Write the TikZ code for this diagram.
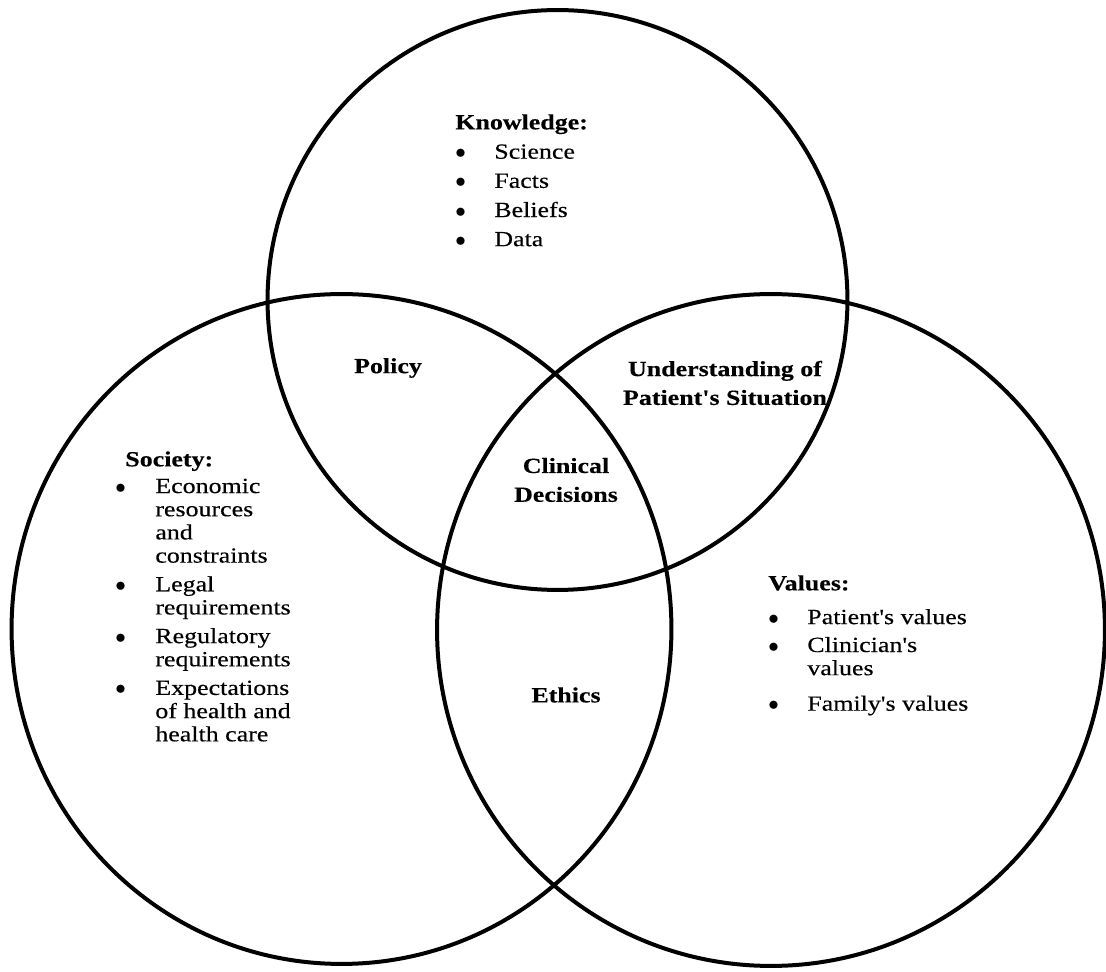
\documentclass[tikz,border=0pt]{standalone}
\usepackage{fontspec}
\setmainfont{Liberation Serif}[FakeStretch=1.2,FakeBold=0.3,Ligatures=TeXOff]

% one bullet point; optional arg is the width kept for the bullet
\newcommand{\bul}[2][0.78cm]{\makebox[#1][l]{$\bullet$}\begin{tabular}[t]{@{}l@{}}#2\end{tabular}}

\tikzset{
  venn/.style={line width=0.08cm},
  listbox/.style={align=left, anchor=north west, inner sep=0pt,
    font=\fontsize{12.3}{13.2}\selectfont},
  region/.style={align=center, inner sep=0pt,
    font=\bfseries\fontsize{12.3}{16.4}\selectfont},
}

\begin{document}
\begin{tikzpicture}[x=0.02cm,y=-0.02cm]
  \useasboundingbox (0,0) rectangle (1106,972);

  % circles
  \coordinate (know) at (557.5,300);
  \coordinate (soc) at (341.5,629);
  \coordinate (val) at (771,630);
  \draw[venn] (know) circle [radius=5.8cm];
  \draw[venn] (soc) circle [x radius=6.6cm, y radius=6.7cm];
  \draw[venn] (val) circle [x radius=6.68cm, y radius=6.72cm];

  % the three lists
  \node[listbox] (knowl) at (455,114) {\textbf{Knowledge:}\\[3.5pt]
    \bul{Science}\\[3.4pt]
    \bul{Facts}\\[3.4pt]
    \bul{Beliefs}\\[3.4pt]
    \bul{Data}};
  \node[listbox] (society) at (115,451) {\hspace*{0.2cm}\textbf{Society:}\\[2pt]
    \bul[0.8cm]{Economic\\resources\\and\\constraints}\\[2.1pt]
    \bul[0.8cm]{Legal\\requirements}\\[2.1pt]
    \bul[0.8cm]{Regulatory\\requirements}\\[2.1pt]
    \bul[0.8cm]{Expectations\\of health and\\health care}};
  \node[listbox] (values) at (768,575) {\textbf{Values:}\\[6pt]
    \bul{Patient's values}\\[2.7pt]
    \bul{Clinician's\\values}\\[6pt]
    \bul{Family's values}};

  % overlaps
  \node[region] (policy) at (388,368) {Policy};
  \node[region] (situation) at (725,383) {Understanding of\\Patient's Situation};
  \node[region] (decisions) at (566,480) {Clinical\\Decisions};
  \node[region] (ethics) at (566,695) {Ethics};
\end{tikzpicture}
\end{document}
